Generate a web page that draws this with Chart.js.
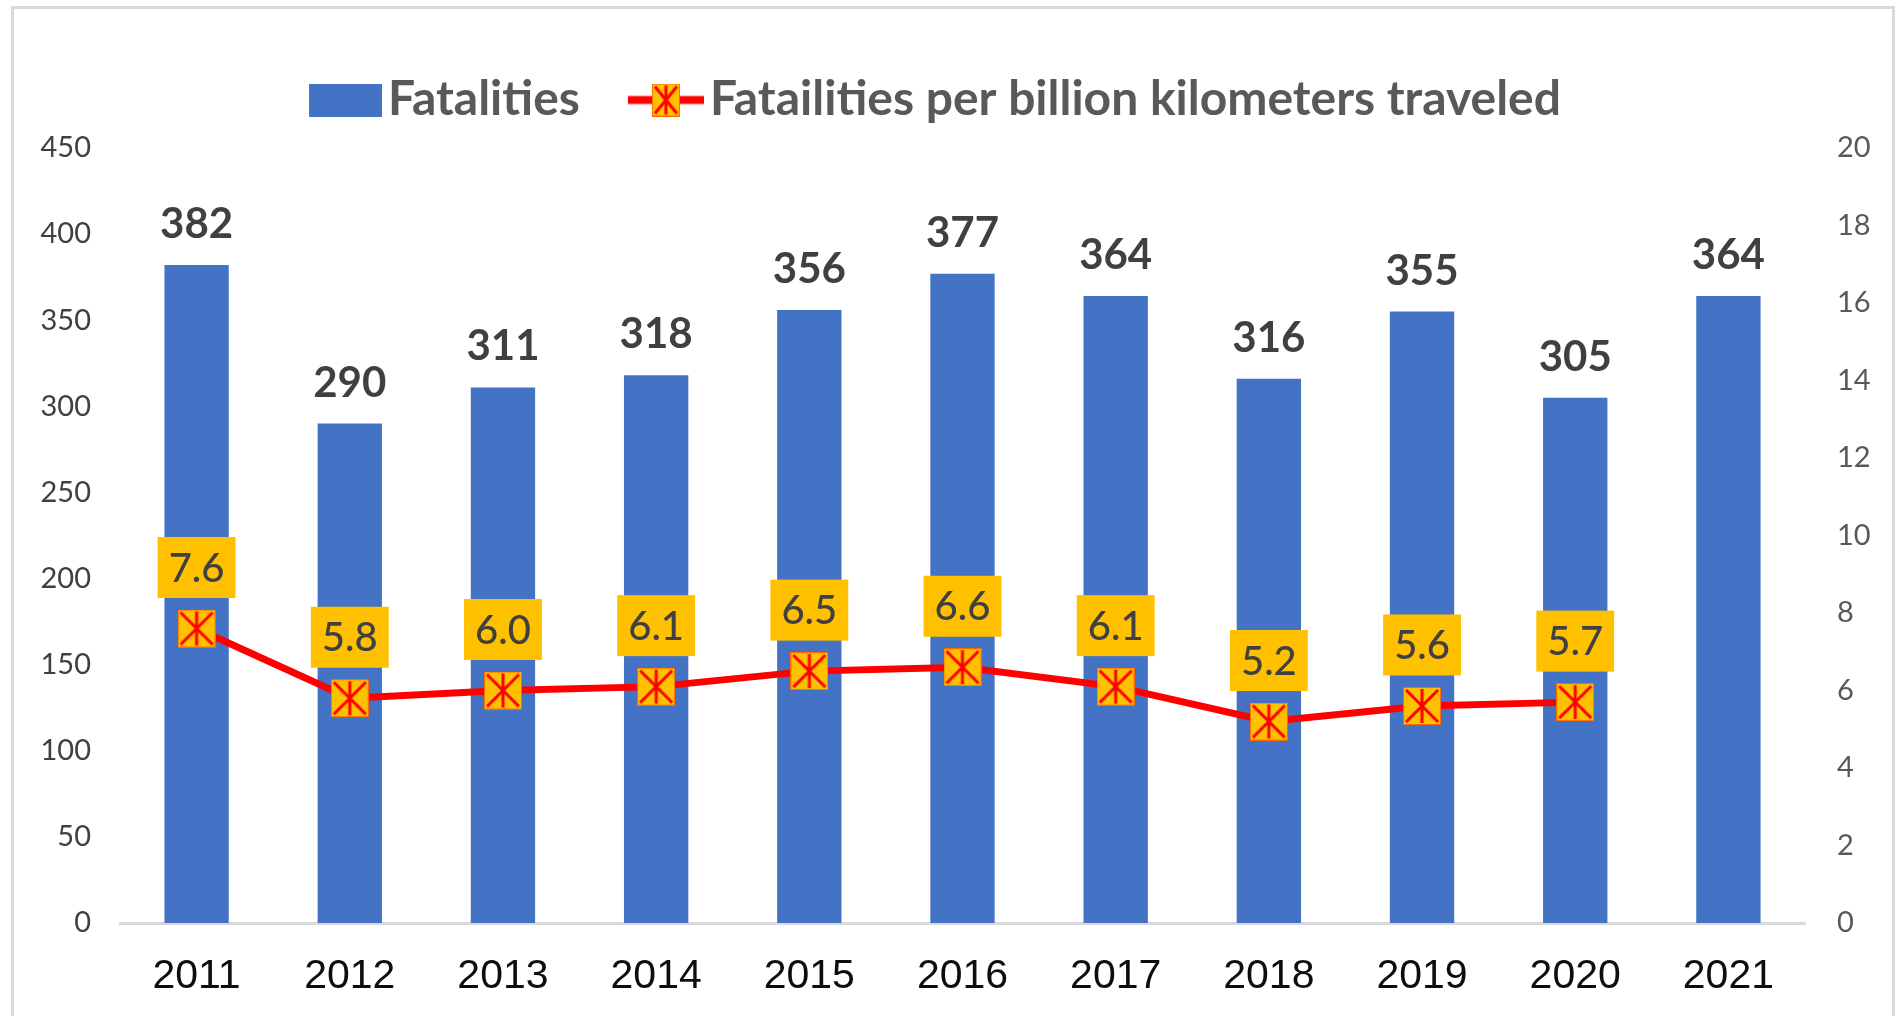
<!DOCTYPE html>
<html>
<head>
<meta charset="utf-8">
<title>Fatalities</title>
<script src="https://cdn.jsdelivr.net/npm/chart.js@4.4.0/dist/chart.umd.min.js"></script>
<style>
  html, body { margin: 0; padding: 0; background: #fff; overflow: hidden; }
  #frame { position: absolute; left: 11px; top: 6px; width: 1884px; height: 1040px; box-sizing: border-box; border: 3px solid #d9d9d9; }
  #chart { position: absolute; left: 0; top: 0; }
</style>
</head>
<body>
<div id="frame"></div>
<canvas id="chart" width="1897" height="1016"></canvas>
<script>
const years = ['2011', '2012', '2013', '2014', '2015', '2016', '2017', '2018', '2019', '2020', '2021'];
const fatalities = [382, 290, 311, 318, 356, 377, 364, 316, 355, 305, 364];
const ratePerBillionKm = [7.6, 5.8, 6.0, 6.1, 6.5, 6.6, 6.1, 5.2, 5.6, 5.7, null];
const leftMax = 450, leftStep = 50;
const rightMax = 20, rightStep = 2;
const barLabel = 'Fatalities';
const lineLabel = 'Fatailities per billion kilometers traveled';

const blue = '#4472C4';
const red = '#FF0000';
const gold = '#FFC000';

function drawStar(g, x, y, w, h) {
  g.fillStyle = gold;
  g.fillRect(x, y, w, h);
  g.strokeStyle = 'rgba(255,0,0,0.45)';
  g.lineWidth = 1;
  g.strokeRect(x + 0.5, y + 0.5, w - 1, h - 1);
  g.strokeStyle = red;
  g.lineWidth = 3;
  g.beginPath();
  g.moveTo(x + 3, y + 3); g.lineTo(x + w - 3, y + h - 3);
  g.moveTo(x + w - 3, y + 3); g.lineTo(x + 3, y + h - 3);
  g.moveTo(x + w / 2, y + 2); g.lineTo(x + w / 2, y + h - 2);
  g.stroke();
}

function makeMarker() {
  let c = document.createElement('canvas');
  c.width = 38; c.height = 38;
  drawStar(c.getContext('2d'), 0, 0, 38, 38);
  return c;
}

// legend symbols are drawn wider than the box so they sit close to the text
function legendBar() {
  let c = document.createElement('canvas');
  c.width = 92; c.height = 33;
  let g = c.getContext('2d');
  g.fillStyle = blue;
  g.fillRect(19, 0, 73, 33);
  return c;
}

function legendLine() {
  let c = document.createElement('canvas');
  c.width = 92; c.height = 33;
  let g = c.getContext('2d');
  g.fillStyle = red;
  g.fillRect(16, 12.5, 76, 8);
  drawStar(g, 40, 0, 28, 33);
  return c;
}

const valueLabels = {
  id: 'valueLabels',
  afterDatasetsDraw(chart) {
    let ctx = chart.ctx;
    ctx.save();
    ctx.textAlign = 'center';
    ctx.textBaseline = 'alphabetic';
    ctx.font = 'bold 42px Lato';
    ctx.fillStyle = '#404040';
    chart.getDatasetMeta(0).data.forEach((bar, i) => {
      ctx.fillText(String(fatalities[i]), bar.x, bar.y - 27);
    });
    ctx.font = '500 40px Lato';
    chart.getDatasetMeta(1).data.forEach((pt, i) => {
      if (ratePerBillionKm[i] === null) return;
      let text = ratePerBillionKm[i].toFixed(1);
      let w = ctx.measureText(text).width + 22;
      let cy = pt.y - 61;
      ctx.fillStyle = gold;
      ctx.fillRect(pt.x - w / 2, cy - 30.5, w, 61);
      ctx.fillStyle = '#404040';
      ctx.fillText(text, pt.x, cy + 14);
    });
    ctx.restore();
  }
};

const legendGap = {
  id: 'legendGap',
  afterInit(chart) {
    let fit = chart.legend.fit;
    chart.legend.fit = function () {
      fit.call(this);
      this.height += 14;
    };
  }
};

let ctx = document.getElementById('chart').getContext('2d');
let chart = new Chart(ctx, {
  type: 'bar',
  data: {
    labels: years,
    datasets: [
      {
        label: barLabel,
        data: fatalities,
        backgroundColor: blue,
        barPercentage: 0.42,
        categoryPercentage: 1,
        yAxisID: 'y',
        order: 2
      },
      {
        type: 'line',
        label: lineLabel,
        data: ratePerBillionKm,
        borderColor: red,
        borderWidth: 7,
        pointStyle: makeMarker(),
        pointRadius: 19,
        tension: 0,
        yAxisID: 'y2',
        order: 1
      }
    ]
  },
  options: {
    responsive: false,
    animation: false,
    devicePixelRatio: 1,
    layout: { padding: { top: 26, right: 0, left: -28, bottom: 0 } },
    plugins: {
      tooltip: { enabled: false },
      legend: {
        position: 'top',
        labels: {
          usePointStyle: true,
          pointStyleWidth: 56,
          padding: 50,
          color: '#595959',
          font: { family: 'Lato', size: 48, weight: 'bold' },
          generateLabels: () => [
            { text: barLabel, pointStyle: legendBar(), datasetIndex: 0, hidden: false, lineWidth: 0, fontColor: '#595959' },
            { text: lineLabel, pointStyle: legendLine(), datasetIndex: 1, hidden: false, lineWidth: 0, fontColor: '#595959' }
          ]
        }
      }
    },
    scales: {
      x: {
        grid: { display: false },
        border: { display: true, color: '#d9d9d9', width: 3 },
        ticks: { color: '#0d0d0d', padding: 21, maxRotation: 0, autoSkip: false, font: { family: 'Liberation Sans', size: 41 } },
        afterFit: s => { s.height = 93; }
      },
      y: {
        position: 'left',
        min: 0,
        max: leftMax,
        grid: { display: false },
        border: { display: false },
        ticks: { stepSize: leftStep, color: '#404040', padding: 21, font: { family: 'Lato', size: 29 } },
        afterFit: s => { s.width = 148; }
      },
      y2: {
        position: 'right',
        min: 0,
        max: rightMax,
        grid: { display: false },
        border: { display: false },
        ticks: { stepSize: rightStep, color: '#595959', padding: 24, font: { family: 'Lato', size: 29 } },
        afterFit: s => { s.width = 92; }
      }
    }
  },
  plugins: [valueLabels, legendGap]
});
</script>
</body>
</html>
